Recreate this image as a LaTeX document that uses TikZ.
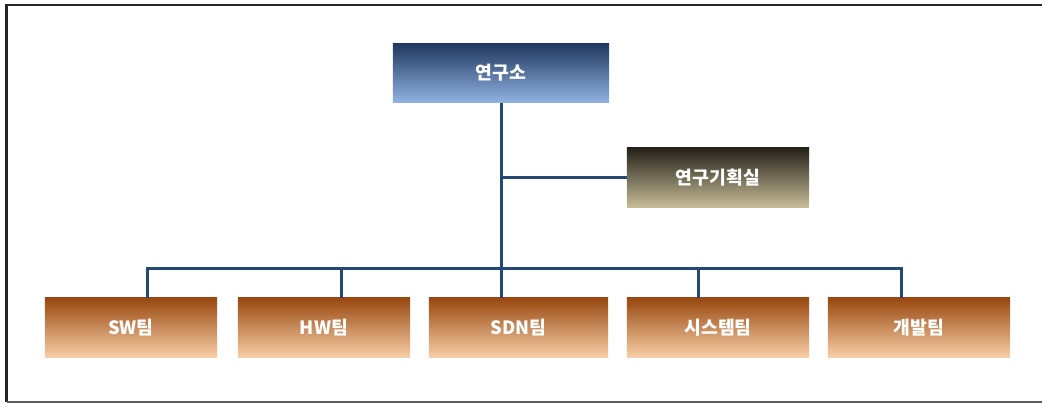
\documentclass[tikz,border=0pt]{standalone}
\usepackage{fontspec}
\newfontfamily\kr{Noto Sans CJK KR}
\definecolor{linkblue}{RGB}{38,72,118}
\definecolor{labtop}{RGB}{30,56,94}
\definecolor{labbot}{RGB}{146,178,226}
\definecolor{plantop}{RGB}{36,33,24}
\definecolor{planbot}{RGB}{198,188,152}
\definecolor{teamtop}{RGB}{152,72,16}
\definecolor{teambot}{RGB}{248,206,166}
\tikzset{
  unit/.style={shade, draw=none, minimum height=1.475cm, inner sep=0pt,
    text=white, font=\kr\bfseries\fontsize{13}{15}\selectfont},
  labbox/.style={unit, top color=labtop, bottom color=labbot},
  planbox/.style={unit, top color=plantop, bottom color=planbot},
  teambox/.style={unit, top color=teamtop, bottom color=teambot},
  link/.style={draw=linkblue, line width=0.075cm},
  frame/.style={line width=0.05cm}
}
\begin{document}
\begin{tikzpicture}[x=0.025cm, y=-0.025cm]
        \useasboundingbox (0,0) rectangle (1042,403);
        \draw[frame, black!85] (1042,4.5) -- (6.5,4.5) -- (6.5,401.5);
        \draw[frame, black!65] (6.5,401.5) -- (1042,401.5);

        % boxes
        \node[labbox, minimum width=5.4cm] (lab) at (501,73) {연구소};
        \node[planbox, minimum width=4.55cm] (plan) at (718,177.5) {연구기획실};

        \node[teambox, minimum width=4.3cm] (sw) at (131,327.5) {SW팀};
        \node[teambox, minimum width=4.3cm] (hw) at (324,327.5) {HW팀};
        \node[teambox, minimum width=4.475cm] (sdn) at (518.5,327.5) {SDN팀};
        \node[teambox, minimum width=4.55cm] (sys) at (718,327.5) {시스템팀};
        \node[teambox, minimum width=4.55cm] (dev) at (919,327.5) {개발팀};

        % taps on the bus
        \foreach \n/\x in {sw/147, hw/341, sys/698, dev/901}
            \coordinate (t\n) at (\x,268.5);

        % lines
        \draw[link] (lab.south) -- (lab.south |- sdn.north);
        \draw[link] (lab.south |- plan.west) -- (plan.west);
        \draw[link] (tsw |- sw.north) -- (tsw) -- (tdev) -- (tdev |- dev.north);
        \foreach \n in {hw, sys}
            \draw[link] (t\n) -- (t\n |- \n.north);

\end{tikzpicture}
\end{document}
